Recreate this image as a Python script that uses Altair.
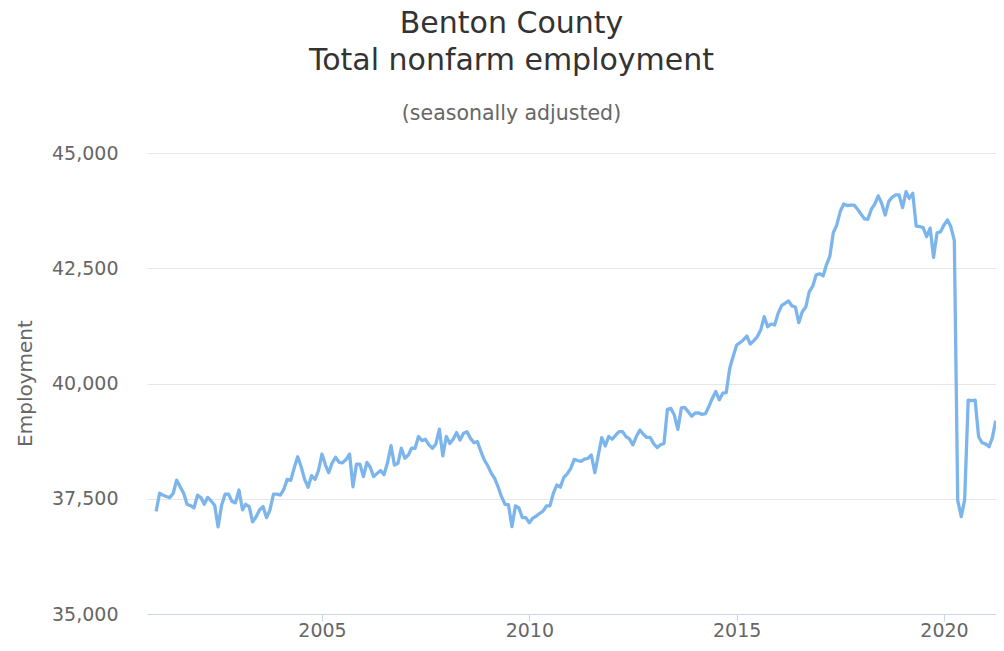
import altair as alt
import pandas as pd

# Monthly total nonfarm employment, Benton County (seasonally adjusted)
y2001 = [37225, 37620, 37580, 37550, 37525, 37620, 37905, 37760, 37620, 37380, 37350, 37300]
y2002 = [37580, 37520, 37380, 37530, 37450, 37360, 36890, 37360, 37600, 37600, 37440, 37410]
y2003 = [37690, 37260, 37380, 37330, 37000, 37110, 37255, 37330, 37090, 37260, 37600, 37600]
y2004 = [37580, 37710, 37920, 37900, 38165, 38410, 38200, 37920, 37750, 38000, 37920, 38110]
y2005 = [38470, 38230, 38065, 38280, 38400, 38290, 38280, 38350, 38470, 37760, 38250, 38250]
y2006 = [37980, 38290, 38190, 37980, 38050, 38115, 38020, 38280, 38650, 38230, 38270, 38595]
y2007 = [38380, 38450, 38595, 38595, 38850, 38760, 38790, 38670, 38595, 38690, 39010, 38430]
y2008 = [38850, 38700, 38790, 38935, 38775, 38920, 38955, 38810, 38715, 38740, 38520, 38340]
y2009 = [38210, 38050, 37945, 37760, 37545, 37380, 37370, 36895, 37345, 37300, 37090, 37090]
y2010 = [36980, 37080, 37120, 37180, 37230, 37345, 37345, 37620, 37800, 37750, 37965, 38040]
y2011 = [38160, 38355, 38330, 38310, 38360, 38375, 38450, 38065, 38450, 38825, 38645, 38850]
y2012 = [38790, 38880, 38955, 38955, 38850, 38800, 38670, 38850, 38990, 38900, 38830, 38830]
y2013 = [38690, 38610, 38670, 38700, 39440, 39460, 39315, 39005, 39470, 39480, 39385, 39290]
y2014 = [39360, 39360, 39330, 39345, 39500, 39680, 39825, 39645, 39790, 39800, 40330, 40585]
y2015 = [40835, 40890, 40945, 41030, 40855, 40930, 41015, 41160, 41450, 41230, 41290, 41270]
y2016 = [41520, 41690, 41740, 41790, 41685, 41660, 41320, 41555, 41660, 41990, 42110, 42355]
y2017 = [42380, 42335, 42570, 42765, 43270, 43440, 43730, 43895, 43860, 43870, 43870, 43780]
y2018 = [43670, 43570, 43560, 43780, 43890, 44070, 43910, 43655, 43945, 44040, 44090, 44090]
y2019 = [43815, 44160, 44015, 44125, 43415, 43405, 43380, 43185, 43370, 42735, 43270, 43290]
y2020 = [43440, 43545, 43405, 43100, 37460, 37110, 37480, 39640, 39630, 39640, 38845, 38715]
y2021 = [38690, 38630, 38815, 39195]

employment = (y2001 + y2002 + y2003 + y2004 + y2005 + y2006 + y2007 + y2008 + y2009
              + y2010 + y2011 + y2012 + y2013 + y2014 + y2015 + y2016 + y2017 + y2018
              + y2019 + y2020 + y2021)
dates = pd.date_range("2001-01-01", periods=len(employment), freq="MS").strftime("%Y-%m-%d")

y_ticks = [35000, 37500, 40000, 42500, 45000]
x_tick_years = [2005, 2010, 2015, 2020]

df = pd.DataFrame({"date": list(dates), "employment": employment})

FONT = "DejaVu Sans"

chart = alt.Chart(df).mark_line(
    color="#7cb5ec", strokeWidth=3.3, strokeJoin="round"
).encode(
    x=alt.X(
        "date:T",
        scale=alt.Scale(
            type="utc",
            domain=[alt.DateTime(year=2000, month=10, date=13, utc=True),
                    alt.DateTime(year=2021, month=4, date=3, utc=True)],
        ),
        axis=alt.Axis(
            values=[alt.DateTime(year=y, month=1, date=1, utc=True) for y in x_tick_years],
            format="%Y",
            title=None,
            grid=False,
            domainColor="#ccd6eb",
            tickColor="#ccd6eb",
            tickSize=7,
            labelPadding=0,
            labelFont=FONT,
            labelFontSize=19,
            labelColor="#666666",
        ),
    ),
    y=alt.Y(
        "employment:Q",
        scale=alt.Scale(domain=[35000, 45000], nice=False, zero=False),
        axis=alt.Axis(
            values=y_ticks,
            format=",.0f",
            title="Employment",
            domain=False,
            ticks=False,
            tickSize=0,
            gridColor="#e6e6e6",
            gridWidth=1,
            labelPadding=29,
            labelFont=FONT,
            labelFontSize=19,
            labelColor="#666666",
            titleFont=FONT,
            titleFontSize=20,
            titleFontWeight="normal",
            titleColor="#666666",
            titleAngle=270,
            titleAlign="center",
            titleBaseline="middle",
            titleX=-122,
            titleY=230,
        ),
    ),
).properties(
    width=849,
    height=461,
    padding={"left": 139, "top": 145, "right": 0, "bottom": 26},
    autosize=alt.AutoSizeParams(type="none"),
    title=alt.TitleParams(
        text=["Benton County", "Total nonfarm employment"],
        subtitle="(seasonally adjusted)",
        anchor="middle",
        dx=-60,
        font=FONT,
        fontSize=30,
        fontWeight="normal",
        color="#333333",
        lineHeight=37,
        subtitleFont=FONT,
        subtitleFontSize=20.5,
        subtitleColor="#666666",
        subtitlePadding=28,
        offset=20,
    ),
).configure_view(strokeWidth=0)

chart.save("out.html", embed_options={"renderer": "svg", "actions": False})
